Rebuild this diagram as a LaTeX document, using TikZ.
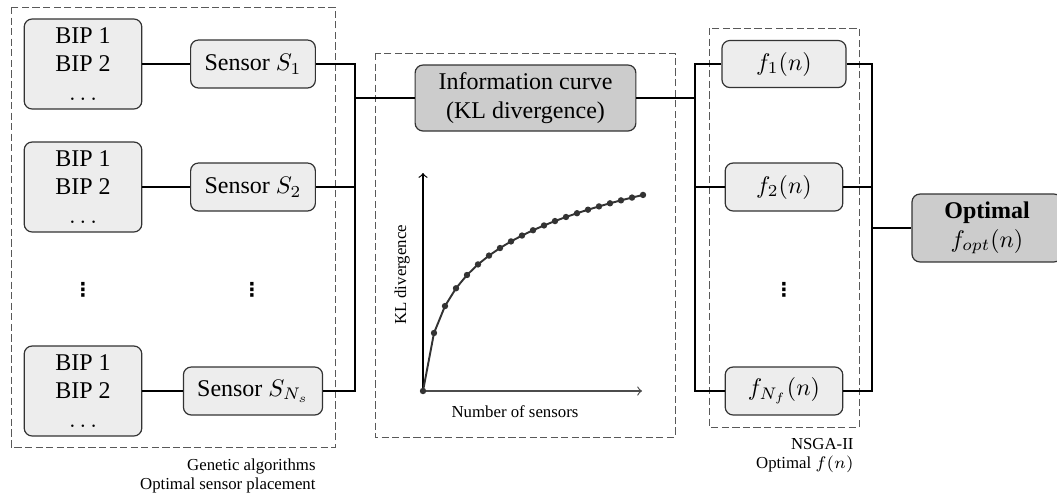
\documentclass[tikz,border=0pt]{standalone}
\usepackage{fontspec}
\setmainfont{Liberation Serif}
\newfontfamily\dotsfont{DejaVu Sans}
\usetikzlibrary{arrows}
\usetikzlibrary{positioning}
\tikzset{lightbox/.style = {draw = black!80, fill = black!7, rounded corners = 3.3pt, line width = 0.5pt, align = center, inner sep = 0}}
\tikzset{darkbox/.style = {lightbox, fill = black!20}}
\tikzset{groupbox/.style = {draw = black!65, dash pattern = on 3pt off 1.4pt, line width = 0.4pt}}
\tikzset{wire/.style = {line width = 0.6pt}}
\tikzset{grouplabel/.style = {font = \scriptsize, align = right, anchor = north east, inner sep = 0}}
\tikzset{vdotsnode/.style = {font = \dotsfont\bfseries\footnotesize, inner sep = 0}}

\begin{document}
\begin{tikzpicture}[x = 0.4167pt, y = -0.4167pt]
      \useasboundingbox (0, 0) rectangle (1057, 493);

      % groups
      \draw [groupbox] (11, 7) rectangle (335, 447);
      \draw [groupbox] (375, 53) rectangle (675, 437);
      \draw [groupbox] (709, 28) rectangle (859, 427);
      \node [grouplabel] (galabel) at (316, 458) {Genetic algorithms\\ Optimal sensor placement};
      \node [grouplabel] (nsgalabel) at (854, 438) {NSGA-II\\ Optimal $f(n)$};

      % sensors
      \foreach \i/\y/\s/\w in {1/64/1/52, 2/187/2/52, 3/391/{N_s}/58} {
        \node [lightbox, minimum width = 49pt, minimum height = 37.5pt] (bip\i) at (83, \y) {BIP 1\\ BIP 2\\ $\dots$};
        \node [lightbox, minimum width = \w pt, minimum height = 20pt] (sens\i) at (253, \y) {Sensor $S_{\s}$};
        \draw [wire] (bip\i) -- (sens\i);
      }
      \node [vdotsnode] (dotsa) at (83, 290) {⋮};
      \node [vdotsnode] (dotsb) at (252, 290) {⋮};

      % information curve
      \node [darkbox, minimum width = 92pt, minimum height = 27.5pt] (info) at (525.5, 98) {Information curve\\ (KL divergence)};
      \coordinate (busL) at (355, 98);
      \draw [wire] (sens1.east) -| (busL) |- (sens3.east);
      \draw [wire] (sens2.east) -- (sens2.east -| busL);
      \draw [wire] (busL) -- (info);

      \coordinate (orig) at (423, 391);
      \draw [->, black!70, line width = 0.5pt] (orig) -- (642, 391);
      \draw [->, line width = 0.5pt] (orig) -- (423, 173);
      \draw [black!80, line width = 0.8pt, mark = *, mark size = 0.9pt] plot [domain = 0:20, samples = 21] ({423 + 11*\x}, {391 - 52.8*ln(1 + 2*\x)});
      \node [font = \scriptsize, rotate = 90] (ylab) at (402, 275) {KL divergence};
      \node [font = \scriptsize] (xlab) at (515, 412) {Number of sensors};

      % objective functions
      \node [lightbox, minimum width = 51.7pt, minimum height = 19.6pt] (f1) at (784, 64) {$f_1(n)$};
      \node [lightbox, minimum width = 49pt, minimum height = 20pt] (f2) at (784, 187) {$f_2(n)$};
      \node [lightbox, minimum width = 49pt, minimum height = 20pt] (f3) at (784, 391) {$f_{N_f}(n)$};
      \node [vdotsnode] (dotsc) at (784, 290) {⋮};
      \coordinate (busR) at (695, 98);
      \draw [wire] (info) -- (busR);
      \draw [wire] (f1.west) -| (busR) |- (f3.west);
      \draw [wire] (f2.west) -- (f2.west -| busR);

      \node [darkbox, minimum width = 62.5pt, minimum height = 28.3pt] (opt) at (987, 228) {\textbf{Optimal}\\ $f_{opt}(n)$};
      \coordinate (busO) at (872, 228);
      \draw [wire] (f1.east) -| (busO) |- (f3.east);
      \draw [wire] (f2.east) -- (f2.east -| busO);
      \draw [wire] (busO) -- (opt);
    \end{tikzpicture}
\end{document}
